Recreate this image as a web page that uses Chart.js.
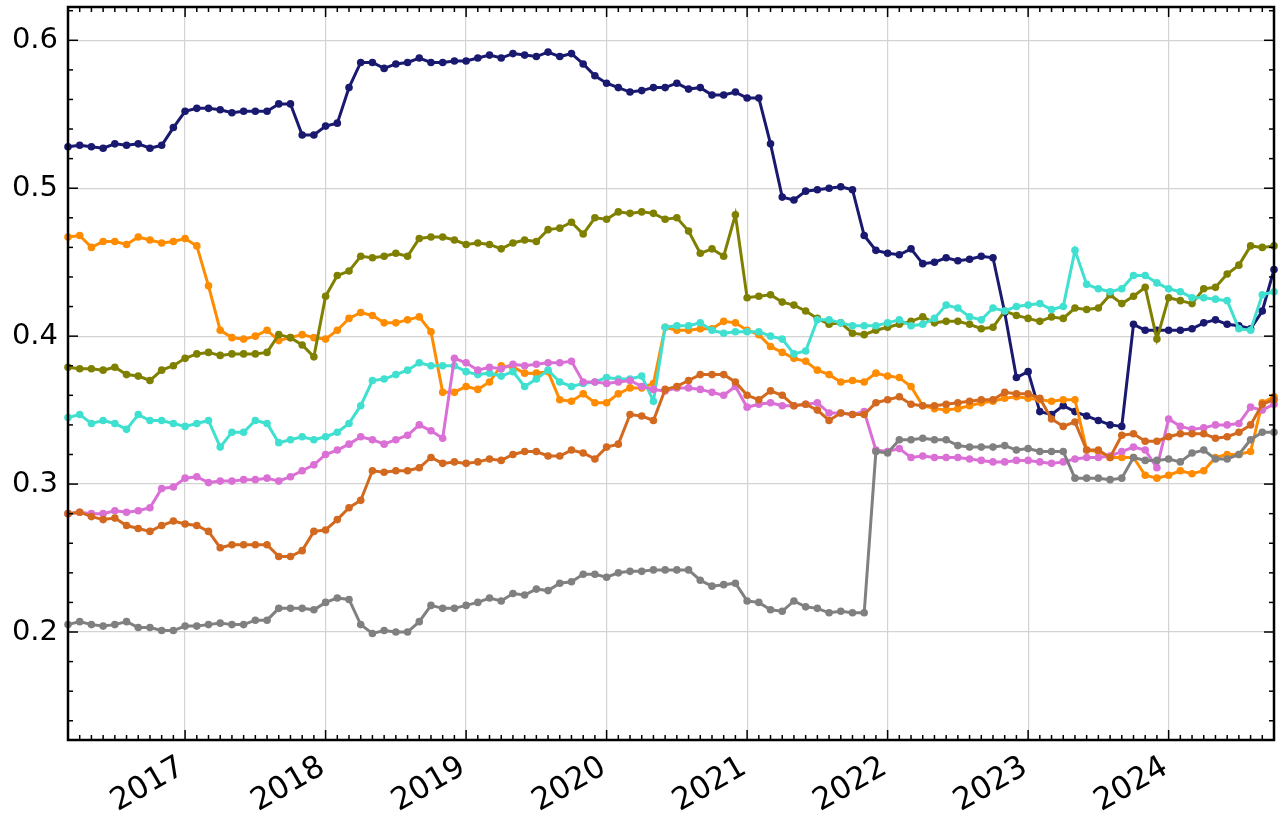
<!DOCTYPE html>
<html>
<head>
<meta charset="utf-8">
<script src="https://cdn.jsdelivr.net/npm/chart.js@4"></script>
<style>
  body { margin: 0; background: #fff; }
  #wrap { width: 1283px; height: 820px; }
</style>
</head>
<body>
<div id="wrap"><canvas id="myChart"></canvas></div>
<script>
// Months: 2016-03 ... 2024-10 (one point per month)
const startYear = 2016, startMonth = 3, monthCount = 104;
const months = [];
for (let k = 0; k < monthCount; k++) {
  const m = startMonth - 1 + k;
  months.push((startYear + Math.floor(m / 12)) + "-" + String(m % 12 + 1).padStart(2, "0"));
}
const yearTicks = ["2017", "2018", "2019", "2020", "2021", "2022", "2023", "2024"];
const yTicks = [0.2, 0.3, 0.4, 0.5, 0.6];

// Series values
const navy = [
  0.528, 0.529, 0.528, 0.527, 0.530, 0.529, 0.530, 0.527, 0.529, 0.541,
  0.552, 0.554, 0.554, 0.553, 0.551, 0.552, 0.552, 0.552, 0.557, 0.557,
  0.536, 0.536, 0.542, 0.544, 0.568, 0.585, 0.585, 0.581, 0.584, 0.585,
  0.588, 0.585, 0.585, 0.586, 0.586, 0.588, 0.590, 0.588, 0.591, 0.590,
  0.589, 0.592, 0.589, 0.591, 0.584, 0.576, 0.571, 0.568, 0.565, 0.566,
  0.568, 0.568, 0.571, 0.567, 0.568, 0.563, 0.563, 0.565, 0.561, 0.561,
  0.530, 0.494, 0.492, 0.498, 0.499, 0.500, 0.501, 0.499, 0.468, 0.458,
  0.456, 0.455, 0.459, 0.449, 0.450, 0.453, 0.451, 0.452, 0.454, 0.453,
  0.416, 0.372, 0.376, 0.349, 0.347, 0.353, 0.349, 0.346, 0.343, 0.340,
  0.339, 0.408, 0.404, 0.404, 0.404, 0.404, 0.405, 0.409, 0.411, 0.408,
  0.407, 0.405, 0.417, 0.445
];
const darkOrange = [
  0.467, 0.468, 0.460, 0.464, 0.464, 0.462, 0.467, 0.465, 0.463, 0.464,
  0.466, 0.461, 0.434, 0.404, 0.399, 0.398, 0.400, 0.404, 0.397, 0.399,
  0.401, 0.399, 0.398, 0.404, 0.412, 0.416, 0.414, 0.409, 0.409, 0.411,
  0.413, 0.403, 0.362, 0.362, 0.366, 0.364, 0.369, 0.380, 0.379, 0.375,
  0.375, 0.376, 0.357, 0.356, 0.361, 0.355, 0.355, 0.361, 0.365, 0.365,
  0.368, 0.406, 0.404, 0.404, 0.405, 0.405, 0.410, 0.409, 0.404, 0.401,
  0.393, 0.389, 0.385, 0.383, 0.377, 0.374, 0.369, 0.370, 0.369, 0.375,
  0.373, 0.372, 0.366, 0.353, 0.351, 0.350, 0.351, 0.353, 0.355, 0.356,
  0.358, 0.359, 0.358, 0.357, 0.356, 0.357, 0.357, 0.323, 0.322, 0.318,
  0.318, 0.318, 0.306, 0.304, 0.306, 0.309, 0.307, 0.309, 0.318, 0.320,
  0.320, 0.322, 0.355, 0.359
];
const olive = [
  0.379, 0.378, 0.378, 0.377, 0.379, 0.374, 0.373, 0.370, 0.377, 0.380,
  0.385, 0.388, 0.389, 0.387, 0.388, 0.388, 0.388, 0.389, 0.401, 0.399,
  0.394, 0.386, 0.427, 0.441, 0.444, 0.454, 0.453, 0.454, 0.456, 0.454,
  0.466, 0.467, 0.467, 0.465, 0.462, 0.463, 0.462, 0.459, 0.463, 0.465,
  0.464, 0.472, 0.473, 0.477, 0.469, 0.480, 0.479, 0.484, 0.483, 0.484,
  0.483, 0.479, 0.480, 0.471, 0.456, 0.459, 0.454, 0.482, 0.426, 0.427,
  0.428, 0.423, 0.421, 0.417, 0.412, 0.408, 0.409, 0.402, 0.401, 0.404,
  0.406, 0.408, 0.410, 0.413, 0.409, 0.410, 0.410, 0.408, 0.405, 0.406,
  0.417, 0.414, 0.412, 0.410, 0.413, 0.412, 0.419, 0.418, 0.419, 0.428,
  0.422, 0.427, 0.433, 0.398, 0.426, 0.424, 0.422, 0.432, 0.433, 0.442,
  0.448, 0.461, 0.460, 0.461
];
const turquoise = [
  0.345, 0.347, 0.341, 0.343, 0.341, 0.337, 0.347, 0.343, 0.343, 0.341,
  0.339, 0.341, 0.343, 0.325, 0.335, 0.335, 0.343, 0.341, 0.328, 0.330,
  0.332, 0.330, 0.332, 0.335, 0.341, 0.353, 0.370, 0.371, 0.374, 0.377,
  0.382, 0.380, 0.380, 0.380, 0.376, 0.374, 0.375, 0.373, 0.376, 0.366,
  0.371, 0.377, 0.369, 0.366, 0.368, 0.369, 0.372, 0.371, 0.371, 0.373,
  0.356, 0.406, 0.407, 0.407, 0.409, 0.404, 0.402, 0.403, 0.403, 0.403,
  0.400, 0.398, 0.388, 0.390, 0.411, 0.411, 0.409, 0.407, 0.407, 0.407,
  0.409, 0.411, 0.407, 0.408, 0.412, 0.421, 0.419, 0.413, 0.411, 0.419,
  0.417, 0.420, 0.421, 0.422, 0.418, 0.420, 0.458, 0.435, 0.432, 0.430,
  0.432, 0.441, 0.441, 0.436, 0.432, 0.430, 0.426, 0.426, 0.425, 0.424,
  0.405, 0.404, 0.428, 0.430
];
const orchid = [
  0.280, 0.281, 0.280, 0.280, 0.282, 0.281, 0.282, 0.284, 0.297, 0.298,
  0.304, 0.305, 0.301, 0.302, 0.302, 0.303, 0.303, 0.304, 0.302, 0.305,
  0.309, 0.313, 0.320, 0.323, 0.327, 0.332, 0.330, 0.327, 0.330, 0.333,
  0.340, 0.336, 0.331, 0.385, 0.382, 0.377, 0.379, 0.378, 0.381, 0.380,
  0.381, 0.382, 0.382, 0.383, 0.369, 0.369, 0.368, 0.369, 0.370, 0.366,
  0.364, 0.363, 0.365, 0.365, 0.364, 0.362, 0.360, 0.366, 0.352, 0.354,
  0.355, 0.353, 0.353, 0.354, 0.355, 0.348, 0.348, 0.347, 0.349, 0.323,
  0.322, 0.324, 0.318, 0.319, 0.318, 0.318, 0.318, 0.317, 0.316, 0.315,
  0.315, 0.316, 0.316, 0.315, 0.314, 0.315, 0.317, 0.318, 0.318, 0.319,
  0.322, 0.325, 0.323, 0.311, 0.344, 0.339, 0.337, 0.338, 0.340, 0.340,
  0.341, 0.352, 0.350, 0.354
];
const chocolate = [
  0.280, 0.281, 0.278, 0.276, 0.277, 0.272, 0.270, 0.268, 0.272, 0.275,
  0.273, 0.272, 0.268, 0.257, 0.259, 0.259, 0.259, 0.259, 0.251, 0.251,
  0.255, 0.268, 0.269, 0.276, 0.284, 0.289, 0.309, 0.308, 0.309, 0.309,
  0.311, 0.318, 0.314, 0.315, 0.314, 0.315, 0.317, 0.316, 0.320, 0.322,
  0.322, 0.319, 0.319, 0.323, 0.321, 0.317, 0.325, 0.327, 0.347, 0.346,
  0.343, 0.364, 0.366, 0.370, 0.374, 0.374, 0.374, 0.369, 0.360, 0.357,
  0.363, 0.360, 0.353, 0.354, 0.350, 0.343, 0.348, 0.347, 0.347, 0.355,
  0.357, 0.359, 0.354, 0.353, 0.353, 0.354, 0.355, 0.356, 0.357, 0.357,
  0.362, 0.361, 0.361, 0.358, 0.344, 0.339, 0.342, 0.323, 0.323, 0.318,
  0.333, 0.334, 0.329, 0.329, 0.332, 0.334, 0.334, 0.334, 0.331, 0.332,
  0.335, 0.340, 0.354, 0.357
];
const gray = [
  0.205, 0.207, 0.205, 0.204, 0.205, 0.207, 0.203, 0.203, 0.201, 0.201,
  0.204, 0.204, 0.205, 0.206, 0.205, 0.205, 0.208, 0.208, 0.216, 0.216,
  0.216, 0.215, 0.220, 0.223, 0.222, 0.205, 0.199, 0.201, 0.200, 0.200,
  0.207, 0.218, 0.216, 0.216, 0.218, 0.220, 0.223, 0.221, 0.226, 0.225,
  0.229, 0.228, 0.233, 0.234, 0.239, 0.239, 0.237, 0.240, 0.241, 0.241,
  0.242, 0.242, 0.242, 0.242, 0.235, 0.231, 0.232, 0.233, 0.221, 0.220,
  0.215, 0.214, 0.221, 0.217, 0.216, 0.213, 0.214, 0.213, 0.213, 0.322,
  0.321, 0.330, 0.330, 0.331, 0.330, 0.330, 0.326, 0.325, 0.325, 0.325,
  0.326, 0.323, 0.324, 0.322, 0.322, 0.322, 0.304, 0.304, 0.304, 0.303,
  0.304, 0.318, 0.316, 0.316, 0.317, 0.315, 0.321, 0.323, 0.317, 0.317,
  0.320, 0.330, 0.335, 0.335
];

const series = [
  { label: "midnightblue", data: navy, color: "#191970" },
  { label: "darkorange", data: darkOrange, color: "#FF8C00" },
  { label: "olive", data: olive, color: "#808000" },
  { label: "turquoise", data: turquoise, color: "#40E0D0" },
  { label: "orchid", data: orchid, color: "#DA70D6" },
  { label: "chocolate", data: chocolate, color: "#D2691E" },
  { label: "gray", data: gray, color: "#808080" }
];

// inward ticks on all four sides + black frame (matplotlib look)
const frameTicks = {
  id: "frameTicks",
  afterDraw(chart) {
    const { ctx, chartArea: a, scales: { x, y } } = chart;
    ctx.save();
    ctx.strokeStyle = "#000";
    ctx.lineWidth = 1.5;
    const seg = (x1, y1, x2, y2) => { ctx.beginPath(); ctx.moveTo(x1, y1); ctx.lineTo(x2, y2); ctx.stroke(); };
    months.forEach((m, i) => {
      const px = x.getPixelForValue(i);
      const len = m.endsWith("-01") ? 10 : 5;
      seg(px, a.bottom, px, a.bottom - len);
      seg(px, a.top, px, a.top + len);
    });
    for (let k = 7; k <= 31; k++) {
      const py = y.getPixelForValue(k * 0.02);
      if (py < a.top || py > a.bottom) continue;
      const len = k % 5 === 0 ? 10 : 5;
      seg(a.left, py, a.left + len, py);
      seg(a.right, py, a.right - len, py);
    }
    ctx.lineWidth = 2.5;
    ctx.strokeRect(a.left, a.top, a.width, a.height);
    ctx.restore();
  }
};

Chart.defaults.font.family = "'DejaVu Sans', sans-serif";
Chart.defaults.color = "#000";

new Chart("myChart", {
  type: "line",
  data: {
    labels: months,
    datasets: series.map((s, i) => ({
      label: s.label,
      data: s.data,
      borderColor: s.color,
      backgroundColor: s.color,
      pointBackgroundColor: s.color,
      pointBorderColor: s.color,
      borderWidth: 3,
      pointRadius: 3.8,
      pointBorderWidth: 0,
      tension: 0,
      order: series.length - i // last series on top
    }))
  },
  options: {
    responsive: true,
    maintainAspectRatio: false,
    animation: false,
    layout: { padding: { top: 7, right: 9, left: 0, bottom: 0 } },
    plugins: { legend: { display: false }, tooltip: { enabled: false } },
    scales: {
      x: {
        type: "category",
        offset: false,
        border: { display: false },
        grid: {
          drawTicks: false,
          lineWidth: 1.2,
          color: c => (months[c.index] || "").endsWith("-01") ? "#d3d3d3" : "rgba(0,0,0,0)"
        },
        ticks: {
          autoSkip: false,
          maxRotation: 30,
          minRotation: 30,
          padding: 9,
          labelOffset: -3,
          font: { size: 31 },
          callback: (v, i) => {
            const m = months[i];
            return m.endsWith("-01") && yearTicks.includes(m.slice(0, 4)) ? m.slice(0, 4) : "";
          }
        },
        afterFit: s => { s.height = 80; s.paddingLeft = 0; s.paddingRight = 0; }
      },
      y: {
        min: 0.127,
        max: 0.6225,
        border: { display: false },
        grid: { drawTicks: false, color: "#d3d3d3", lineWidth: 1.2 },
        afterBuildTicks: s => { s.ticks = yTicks.map(v => ({ value: v })); },
        ticks: {
          padding: 10,
          font: { size: 29 },
          callback: v => v.toFixed(1)
        },
        afterFit: s => { s.width = 68; s.paddingTop = 0; s.paddingBottom = 0; }
      }
    }
  },
  plugins: [frameTicks]
});
</script>
</body>
</html>
